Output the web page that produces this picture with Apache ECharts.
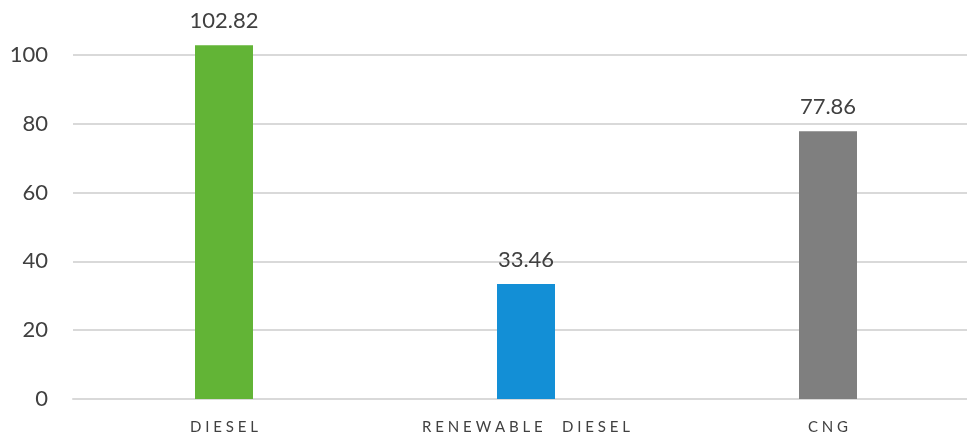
<!DOCTYPE html>
<html>
<head>
<meta charset="utf-8">
<script src="https://cdn.jsdelivr.net/npm/echarts@6/dist/echarts.min.js"></script>
<style>
  html, body { margin: 0; padding: 0; background: #fff; overflow: hidden; }
  #chart { width: 979px; height: 438px; }
</style>
</head>
<body>
<div id="chart"></div>
<script>
// data
const categories = ['DIESEL', 'RENEWABLE  DIESEL', 'CNG']
const values = [102.82, 33.46, 77.86]
const barColors = ['#62b436', '#138fd6', '#7f7f7f']

const chart = echarts.init(document.getElementById('chart'))
chart.setOption({
    animation: false,
    grid: {
        left: 73,
        right: 0,
        top: 55,
        bottom: 39
    },
    xAxis: {
        type: 'category',
        data: categories,
        axisLine: { lineStyle: { color: '#d9d9d9', width: 2 } },
        axisTick: { show: false },
        axisLabel: {
            margin: 21,
            fontSize: 15,
            color: '#404040',
            fontFamily: 'Lato',
            formatter: v => v.split('').join(' ')
        }
    },
    yAxis: {
        type: 'value',
        min: 0,
        max: 100,
        interval: 20,
        axisLine: { show: false },
        axisTick: { show: false },
        splitLine: { lineStyle: { color: '#d9d9d9', width: 2 } },
        axisLabel: {
            margin: 25,
            fontSize: 22,
            color: '#404040',
            fontFamily: 'Lato'
        }
    },
    series: [
        {
            type: 'bar',
            barWidth: 58,
            clip: false,
            data: values.map((v, i) => ({ value: v, itemStyle: { color: barColors[i] } })),
            label: {
                show: true,
                position: 'top',
                distance: 13,
                fontSize: 22,
                color: '#404040',
                fontFamily: 'Lato'
            }
        }
    ]
})
</script>
</body>
</html>
